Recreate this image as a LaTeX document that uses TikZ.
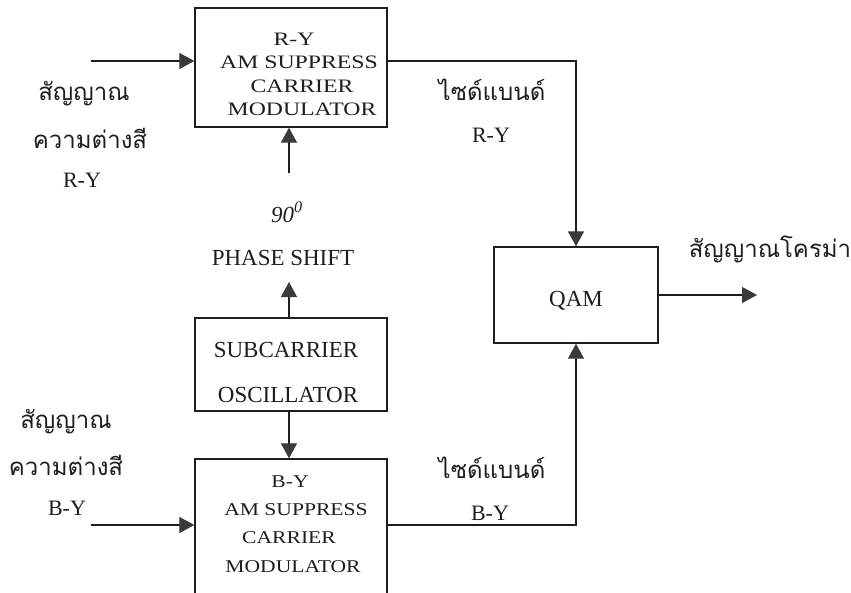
\documentclass[tikz,border=0pt]{standalone}
\usepackage{fontspec}
\setmainfont{Liberation Serif}
\newfontfamily\thai[Script=Thai]{Loma}
\newfontfamily\boxA{Liberation Serif}[FakeStretch=1.25]
\newfontfamily\boxB{Liberation Serif}[FakeStretch=1.2]
\usetikzlibrary{arrows.meta}
\definecolor{ink}{HTML}{1E1E1E}
\definecolor{tipc}{HTML}{3A3A3A}
\tikzset{
  blk/.style={draw=ink, line width=1.4pt, minimum width=192pt, inner sep=0pt},
  conn/.style={draw=ink, line width=1.3pt},
  arr/.style={conn, -{Triangle[length=15pt,width=16pt,color=tipc]}},
  txt/.style={inner sep=0pt, anchor=base, text=ink},
  lat/.style={txt, font=\fontsize{22}{26}\selectfont},
  th/.style={txt, font=\thai\fontsize{24}{28}\selectfont},
  bxa/.style={txt, font=\boxA\fontsize{19}{23}\selectfont},
  bxb/.style={txt, font=\boxB\fontsize{18}{22}\selectfont},
}
\begin{document}
\begin{tikzpicture}[x=1pt, y=-1pt]
\useasboundingbox (0,0) rectangle (851,592);
\fill[white] (0,0) rectangle (851,592);
% blocks
\node[blk, minimum height=119pt] (ry) at (291,67.5) {};
\node[blk, minimum height=93pt] (sub) at (291,364.5) {};
\node[blk, minimum height=141pt] (by) at (291,529.5) {};
\node[blk, minimum width=164pt, minimum height=96pt] (qam) at (576,295) {};
% block texts
\node[bxa] (ry1) at (294,45) {R-Y};
\node[bxa] (ry2) at (299,68) {AM SUPPRESS};
\node[bxa] (ry3) at (302,92) {CARRIER};
\node[bxa] (ry4) at (302,115) {MODULATOR};
\node[bxb] (by1) at (290,487) {B-Y};
\node[bxb] (by2) at (296,515) {AM SUPPRESS};
\node[bxb] (by3) at (289,543) {CARRIER};
\node[bxb] (by4) at (293,572) {MODULATOR};
\node[lat, font=\fontsize{23}{27}\selectfont] (sub1) at (286,357) {SUBCARRIER};
\node[lat, font=\fontsize{23}{27}\selectfont] (sub2) at (288,402) {OSCILLATOR};
\node[lat, font=\fontsize{23}{27}\selectfont] (q) at (576,306) {QAM};
% phase shift
\node[lat, font=\fontsize{23}{27}\selectfont] (ps) at (283,265) {PHASE SHIFT};
\node[lat, font=\itshape\fontsize{23}{27}\selectfont] (deg) at (287,222) {90\textsuperscript{0}};
\coordinate (psTop) at (289,173);
\coordinate (psBot) at (289,282);
% left labels
\node[th] (t1a) at (84,100) {สัญญาณ};
\node[th] (t1b) at (90,148) {ความต่างสี};
\node[lat] (t1c) at (82,187) {R-Y};
\node[th] (t2a) at (66,428) {สัญญาณ};
\node[th] (t2b) at (66,475) {ความต่างสี};
\node[lat] (t2c) at (67,515) {B-Y};
% right labels
\node[th] (s1a) at (492,100) {ไซด์แบนด์};
\node[lat] (s1b) at (491,142) {R-Y};
\node[th] (s2a) at (492,478) {ไซด์แบนด์};
\node[lat] (s2b) at (490,520) {B-Y};
\node[th] (out) at (770,257) {สัญญาณโครม่า};
% input coordinates
\coordinate (inR) at (91,61);
\coordinate (inB) at (91,525);
\coordinate (outE) at (757,295);
% connectors
\draw[arr] (inR) -- (inR -| ry.west);
\draw[arr] (inB) -- (inB -| by.west);
\draw[arr] (psTop) -- (psTop |- ry.south);
\draw[arr] (sub.north -| psBot) -- (psBot);
\draw[arr] (sub.south -| psBot) -- (psBot |- by.north);
\draw[arr] (inR -| ry.east) -| (qam.north);
\draw[arr] (inB -| by.east) -| (qam.south);
\draw[arr] (outE -| qam.east) -- (outE);
\end{tikzpicture}
\end{document}
